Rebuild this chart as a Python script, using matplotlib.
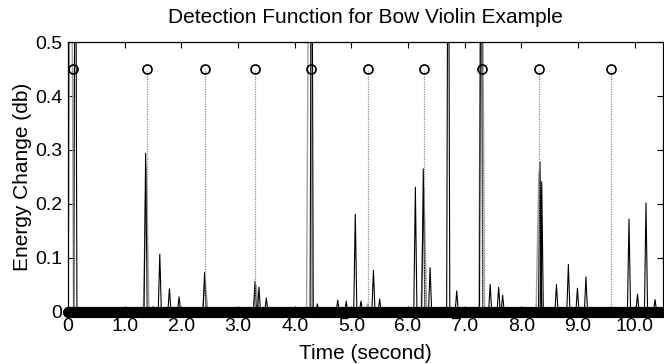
import matplotlib
matplotlib.use("Agg")
import matplotlib.pyplot as plt
import numpy as np

plt.rcParams['font.family'] = ['Liberation Sans', 'DejaVu Sans']

# detected onsets (circles at 0.45)
onset_t = [0.08, 1.39, 2.42, 3.30, 4.28, 5.29, 6.28, 7.30, 8.31, 9.58]
onset_h = 0.45

# black detection function peaks (time, height); >0.5 are clipped
blk_t = [0.13, 1.37, 1.50, 1.62, 1.79, 1.96, 2.41, 3.30, 3.37, 3.50, 3.56,
         4.30, 4.40, 4.76, 4.91, 5.07, 5.17, 5.39, 5.50, 6.13, 6.27, 6.39,
         6.71, 6.86, 7.29, 7.45, 7.60, 7.67, 8.33, 8.36, 8.62, 8.83, 8.99,
         9.14, 9.90, 10.05, 10.20, 10.36]
blk_h = [1.0, 0.294, 0.010, 0.107, 0.043, 0.028, 0.073, 0.057, 0.046, 0.026, 0.008,
         1.0, 0.015, 0.022, 0.020, 0.181, 0.020, 0.077, 0.024, 0.231, 0.265, 0.082,
         1.0, 0.039, 1.0, 0.051, 0.046, 0.031, 0.278, 0.241, 0.051, 0.088, 0.044,
         0.065, 0.172, 0.033, 0.202, 0.023]

# grey (smoothed) function peaks
gry_t = [0.05, 1.38, 2.42, 3.32, 4.26, 5.29, 6.28, 7.30, 8.31, 9.58]
gry_h = [1.0, 0.27, 0.06, 0.05, 1.0, 0.015, 0.23, 1.0, 0.26, 0.006]

frame_t = np.arange(0.0, 10.55, 0.01)   # analysis frames shown on the baseline


def peaks_to_line(ts, hs, w):
    xs, ys = [0.0], [0.0]
    for t, h in zip(ts, hs):
        xs += [t - w, t, t + w]
        ys += [0.0, h, 0.0]
    xs.append(10.5); ys.append(0.0)
    return xs, ys


fig = plt.figure(figsize=(6.64, 3.64), dpi=100)
ax = fig.add_axes([0.1024, 0.1429, 0.8961, 0.7417])

gx, gy = peaks_to_line(gry_t, gry_h, 0.05)
ax.plot(gx, gy, color="#a0a0a0", lw=1.0, zorder=2)
bx, by = peaks_to_line(blk_t, blk_h, 0.028)
ax.plot(bx, by, color="black", lw=0.8, zorder=3)

# onset stems
ax.vlines(onset_t, 0, onset_h, colors="#8c8c8c", linestyles=(0, (1, 1)), lw=0.9, zorder=4)
ax.plot(onset_t, [onset_h] * len(onset_t), "o", mfc="none", mec="black",
        ms=6.5, mew=1.2, zorder=5)

# baseline frames
ax.plot(frame_t, np.zeros_like(frame_t), "o", color="black", ms=7, clip_on=False, zorder=6)

ax.set_xlim(0, 10.5)
ax.set_ylim(0, 0.5)
ax.set_xticks(np.arange(0, 11, 1))
ax.set_xticklabels(["0"] + [f"{v:.1f}" for v in range(1, 11)])
ax.set_yticks([0, 0.1, 0.2, 0.3, 0.4, 0.5])
ax.set_yticklabels(["0", "0.1", "0.2", "0.3", "0.4", "0.5"])
ax.tick_params(direction="in", top=True, right=True, labelsize=14, length=4, pad=4)
for s in ax.spines.values():
    s.set_linewidth(0.9)

ax.set_title("Detection Function for Bow Violin Example", fontsize=15, pad=14)
ax.set_xlabel("Time (second)", fontsize=15, labelpad=7)
ax.set_ylabel("Energy Change (db)", fontsize=15, labelpad=2)

fig.savefig("out.png", dpi=100, facecolor="white")
